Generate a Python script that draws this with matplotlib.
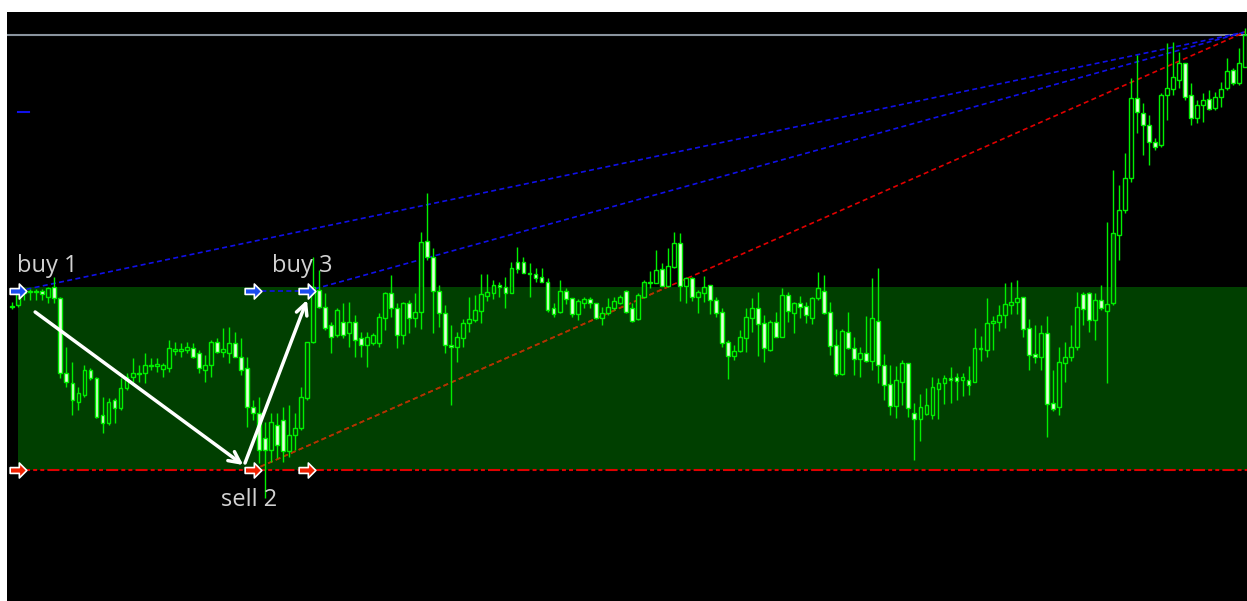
import matplotlib
matplotlib.use('Agg')
import matplotlib.pyplot as plt
from matplotlib.patches import Rectangle
from matplotlib.path import Path

# bar prices (points), one value per bar
opens = [293, 295, 307, 308, 308, 309, 303, 313, 302, 227,
         217, 198, 205, 230, 222, 185, 177, 200, 192, 212,
         223, 227, 227, 234, 234, 231, 232, 249, 249, 250,
         252, 247, 230, 235, 258, 248, 247, 257, 243, 232,
         193, 187, 162, 150, 175, 180, 149, 165, 172, 202,
         258, 310, 293, 275, 265, 278, 267, 278, 262, 255,
         257, 257, 282, 307, 292, 265, 297, 282, 288, 359,
         343, 309, 287, 255, 253, 262, 277, 280, 289, 304,
         307, 315, 313, 307, 338, 338, 327, 326, 323, 318,
         292, 288, 309, 302, 286, 297, 301, 297, 282, 287,
         292, 297, 309, 292, 281, 303, 318, 317, 331, 314,
         333, 357, 314, 322, 303, 307, 315, 300, 288, 258,
         244, 249, 262, 282, 292, 277, 250, 278, 263, 305,
         287, 297, 294, 282, 302, 309, 288, 255, 226, 268,
         252, 241, 247, 239, 279, 235, 216, 194, 218, 237,
         187, 181, 186, 185, 211, 217, 222, 223, 220, 220,
         218, 252, 250, 277, 278, 285, 295, 298, 303, 272,
         246, 243, 267, 197, 193, 237, 243, 253, 306, 307,
         280, 300, 289, 297, 365, 390, 422, 502, 487, 475,
         458, 455, 505, 511, 520, 537, 505, 482, 495, 501,
         492, 503, 512, 530, 517, 533]
highs = [298, 308, 311, 311, 311, 311, 313, 323, 303, 253,
         238, 213, 235, 232, 223, 203, 202, 202, 222, 227,
         242, 235, 247, 242, 242, 237, 260, 258, 257, 258,
         257, 250, 245, 260, 262, 272, 273, 268, 262, 243,
         200, 203, 178, 187, 187, 193, 195, 187, 213, 258,
         343, 330, 307, 278, 292, 297, 298, 285, 268, 268,
         267, 287, 308, 325, 297, 298, 300, 307, 368, 407,
         352, 315, 295, 275, 268, 281, 303, 305, 326, 326,
         320, 318, 323, 338, 353, 343, 337, 332, 332, 322,
         297, 320, 312, 302, 301, 303, 303, 297, 293, 302,
         303, 305, 310, 297, 307, 320, 329, 350, 337, 352,
         368, 367, 323, 323, 310, 324, 315, 303, 292, 260,
         255, 270, 292, 302, 308, 285, 280, 288, 312, 308,
         298, 304, 298, 303, 328, 325, 298, 271, 271, 288,
         263, 253, 284, 322, 332, 246, 235, 234, 240, 237,
         197, 206, 212, 223, 222, 225, 233, 227, 227, 234,
         272, 264, 302, 284, 295, 317, 318, 320, 303, 281,
         275, 275, 284, 230, 253, 258, 275, 308, 308, 308,
         307, 315, 378, 430, 415, 447, 522, 545, 497, 485,
         462, 507, 557, 558, 548, 537, 517, 500, 507, 510,
         508, 518, 542, 532, 552, 572]
lows = [291, 293, 300, 300, 300, 300, 297, 297, 222, 213,
        185, 190, 203, 220, 182, 167, 175, 177, 190, 210,
        218, 218, 217, 230, 228, 223, 228, 245, 243, 247,
        242, 227, 218, 223, 247, 243, 237, 243, 225, 173,
        180, 137, 102, 138, 142, 138, 143, 150, 170, 200,
        257, 292, 270, 247, 263, 262, 253, 243, 243, 233,
        255, 253, 270, 283, 252, 256, 267, 273, 271, 340,
        267, 273, 247, 195, 238, 253, 268, 278, 277, 299,
        301, 303, 292, 307, 327, 327, 303, 318, 318, 288,
        283, 287, 296, 283, 280, 292, 292, 281, 275, 285,
        290, 296, 287, 278, 280, 302, 312, 317, 314, 313,
        332, 299, 297, 299, 287, 298, 286, 283, 253, 221,
        240, 248, 248, 268, 244, 238, 249, 263, 263, 278,
        267, 282, 277, 276, 300, 286, 245, 224, 225, 251,
        225, 223, 238, 230, 217, 200, 185, 182, 195, 183,
        140, 159, 185, 181, 181, 196, 197, 200, 204, 205,
        218, 239, 243, 250, 269, 272, 286, 286, 263, 230,
        237, 230, 163, 189, 185, 218, 239, 250, 275, 268,
        260, 290, 217, 295, 340, 387, 418, 467, 445, 435,
        450, 453, 480, 505, 512, 500, 475, 477, 478, 490,
        490, 493, 510, 515, 515, 533]
closes = [294, 307, 308, 309, 309, 306, 312, 302, 227, 218,
          200, 207, 230, 222, 183, 177, 198, 192, 212, 223,
          227, 226, 235, 235, 236, 235, 252, 251, 251, 253,
          243, 232, 235, 258, 248, 251, 257, 243, 230, 193,
          187, 150, 150, 178, 155, 149, 165, 172, 203, 258,
          313, 293, 272, 263, 290, 265, 278, 260, 255, 263,
          265, 283, 307, 292, 265, 297, 282, 288, 358, 343,
          309, 287, 255, 253, 263, 277, 281, 290, 306, 308,
          315, 313, 307, 332, 331, 327, 326, 322, 318, 290,
          286, 309, 301, 286, 299, 301, 297, 282, 287, 293,
          299, 303, 288, 279, 305, 318, 317, 330, 314, 334,
          357, 314, 322, 303, 308, 313, 300, 287, 257, 244,
          249, 263, 283, 292, 276, 252, 278, 263, 305, 289,
          297, 293, 285, 302, 312, 287, 254, 226, 269, 252,
          241, 247, 239, 282, 235, 215, 194, 220, 237, 192,
          181, 193, 195, 213, 217, 222, 220, 219, 223, 215,
          252, 251, 277, 279, 285, 296, 298, 302, 271, 245,
          243, 267, 196, 191, 238, 243, 253, 293, 291, 280,
          300, 292, 296, 367, 390, 422, 502, 488, 475, 458,
          453, 505, 512, 523, 537, 503, 482, 495, 500, 491,
          503, 511, 529, 517, 537, 565]

bid = 565
zone_low, zone_high = 130, 313
# trade marks: bar index, buy level, sell level
trade_bars = [1, 40, 49]
buy_level = 309
sell_level = 130
# trend lines: (bar, price) -> (bar, price)
blue_lines = [((1, 309), (205, 568)), ((49, 309), (205, 568)), ((40, 309), (49, 309))]
red_line = ((40, 130), (205, 568))
stub = ((1, 488), (2.8, 488))
labels = ['buy 1', 'sell 2', 'buy 3']
label_x = [5.85, 39.3, 48.2]
label_y = [334, 100, 334]
arrow_from = [(3.8, 288), (38.7, 137)]
arrow_to = [(38.4, 135), (49.0, 300)]

GREEN = '#00f000'
ZONE = '#003f00'

fig = plt.figure(figsize=(12.47, 6.01), dpi=100, facecolor='white')
ax = fig.add_axes([7 / 1247, 0, 1240 / 1247, 589 / 601])
ax.set_facecolor('black')
ax.set_xlim(-0.88, 205.3)
ax.set_ylim(-1, 588)
ax.set_xticks([])
ax.set_yticks([])
for s in ax.spines.values():
    s.set_visible(False)

# zone
zone = Rectangle((trade_bars[0], zone_low), 220, zone_high - zone_low,
                 facecolor=ZONE, edgecolor='none', zorder=1)
ax.add_patch(zone)

ax.axhline(bid, color='#8a949e', lw=1.5, zorder=2)

# trend lines
for (x0, y0), (x1, y1) in blue_lines:
    ax.plot([x0, x1], [y0, y1], color='#1010e8', lw=1.2, linestyle=(0, (3, 2)), zorder=2)
(x0, y0), (x1, y1) = red_line
ax.plot([x0, x1], [y0, y1], color='#e00000', lw=1.2, linestyle=(0, (3, 2)), zorder=2)
inner, = ax.plot([x0, x1], [y0, y1], color='#a83c00', lw=1.2, linestyle=(0, (3, 2)), zorder=2.1)
inner.set_clip_path(zone)
ax.plot([trade_bars[0], 210], [sell_level, sell_level], color='#e00000', lw=1.5,
        linestyle=(0, (5.8, 1.5, 1.9, 1.5, 1.9, 1.5)), zorder=2)
ax.plot([stub[0][0], stub[1][0]], [stub[0][1], stub[1][1]], color='#1010e8', lw=1.5, zorder=2)

# candles
x = list(range(len(opens)))
for i in x:
    o, h, l, c = opens[i], highs[i], lows[i], closes[i]
    ax.vlines(i, l, h, colors=GREEN, lw=1.0, zorder=3)
    bottom = min(o, c)
    height = max(abs(c - o), 0.8)
    face = 'black' if c > o else '#e4ffdc'
    if c > o and zone_low < bottom < zone_high:
        face = ZONE
    ax.bar(i, height, bottom=bottom, width=0.64, facecolor=face, edgecolor=GREEN,
           linewidth=1.0, zorder=4)

# trade arrows
verts = [(-1, -0.35), (0.1, -0.35), (0.1, -0.9), (1, 0), (0.1, 0.9), (0.1, 0.35),
         (-1, 0.35), (-1, -0.35)]
codes = [Path.MOVETO] + [Path.LINETO] * 6 + [Path.CLOSEPOLY]
arrow_marker = Path(verts, codes)
ax.plot(trade_bars, [buy_level] * 3, linestyle='none', marker=arrow_marker, markersize=12,
        markerfacecolor='#1a4cf0', markeredgecolor='white', markeredgewidth=1.2, zorder=6)
ax.plot(trade_bars, [sell_level] * 3, linestyle='none', marker=arrow_marker, markersize=12,
        markerfacecolor='#f02000', markeredgecolor='white', markeredgewidth=1.2, zorder=6)

for a, b in zip(arrow_from, arrow_to):
    ax.annotate('', xy=b, xytext=a,
                arrowprops=dict(arrowstyle='->,head_length=0.8,head_width=0.4',
                                color='white', lw=2.5, shrinkA=0, shrinkB=0), zorder=7)

for t, tx, ty in zip(labels, label_x, label_y):
    ax.text(tx, ty, t, color='#d2d2d2', fontsize=17, family=['Open Sans', 'DejaVu Sans'],
            ha='center', va='center', zorder=8)

fig.savefig('out.png', dpi=100, facecolor='white')
